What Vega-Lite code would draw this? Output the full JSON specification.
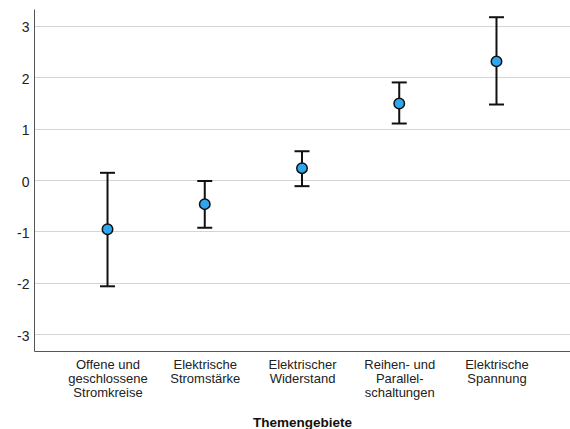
{
  "$schema": "https://vega.github.io/schema/vega-lite/v6.json",
  "autosize": {"type": "none"},
  "padding": {"left": 34, "top": 9, "right": 0, "bottom": 78},
  "width": 536,
  "height": 342,
  "background": "white",
  "config": {
    "font": "Liberation Sans",
    "view": {"stroke": null},
    "axis": {"labelFont": "Liberation Sans", "titleFont": "Liberation Sans", "labelColor": "#222", "titleColor": "#111", "labelFontSize": 13, "domainColor": "#555", "domainWidth": 1, "ticks": false, "gridColor": "#d4d4d4", "gridWidth": 1}
  },
  "data": {
    "values": [
      {"thema": "Offene und geschlossene Stromkreise", "mittel": -0.96, "unten": -2.07, "oben": 0.14},
      {"thema": "Elektrische Stromstärke", "mittel": -0.47, "unten": -0.93, "oben": -0.02},
      {"thema": "Elektrischer Widerstand", "mittel": 0.23, "unten": -0.12, "oben": 0.56},
      {"thema": "Reihen- und Parallelschaltungen", "mittel": 1.49, "unten": 1.1, "oben": 1.9},
      {"thema": "Elektrische Spannung", "mittel": 2.31, "unten": 1.47, "oben": 3.17}
    ]
  },
  "encoding": {
    "x": {
      "field": "thema", "type": "nominal", "sort": null,
      "scale": {"type": "point", "padding": 0.756},
      "axis": {
        "title": "Themengebiete", "titleFontWeight": "bold", "titleFontSize": 13.5, "titlePadding": 16,
        "labelAngle": 0, "labelPadding": 7, "labelLineHeight": 14, "grid": false,
        "labelExpr": "datum.value == 'Offene und geschlossene Stromkreise' ? ['Offene und', 'geschlossene', 'Stromkreise'] : datum.value == 'Elektrische Stromstärke' ? ['Elektrische', 'Stromstärke'] : datum.value == 'Elektrischer Widerstand' ? ['Elektrischer', 'Widerstand'] : datum.value == 'Reihen- und Parallelschaltungen' ? ['Reihen- und', 'Parallel-', 'schaltungen'] : ['Elektrische', 'Spannung']"
      }
    }
  },
  "layer": [
    {
      "mark": {"type": "rule", "color": "#111", "strokeWidth": 2},
      "encoding": {
        "y": {"field": "unten", "type": "quantitative", "scale": {"domain": [-3.33, 3.33], "nice": false}, "axis": {"title": null, "values": [-3, -2, -1, 0, 1, 2, 3], "labelExpr": "toString(datum.value)", "labelFontSize": 14, "labelPadding": 5, "labelBaseline": "middle", "labelOffset": 2, "grid": true}},
        "y2": {"field": "oben"}
      }
    },
    {
      "mark": {"type": "tick", "color": "#111", "thickness": 2, "size": 15, "opacity": 1},
      "encoding": {"y": {"field": "unten", "type": "quantitative"}}
    },
    {
      "mark": {"type": "tick", "color": "#111", "thickness": 2, "size": 15, "opacity": 1},
      "encoding": {"y": {"field": "oben", "type": "quantitative"}}
    },
    {
      "mark": {"type": "point", "shape": "circle", "filled": true, "fill": "#2ea6f0", "stroke": "#111", "strokeWidth": 1.5, "size": 110, "opacity": 1},
      "encoding": {"y": {"field": "mittel", "type": "quantitative"}}
    }
  ]
}
